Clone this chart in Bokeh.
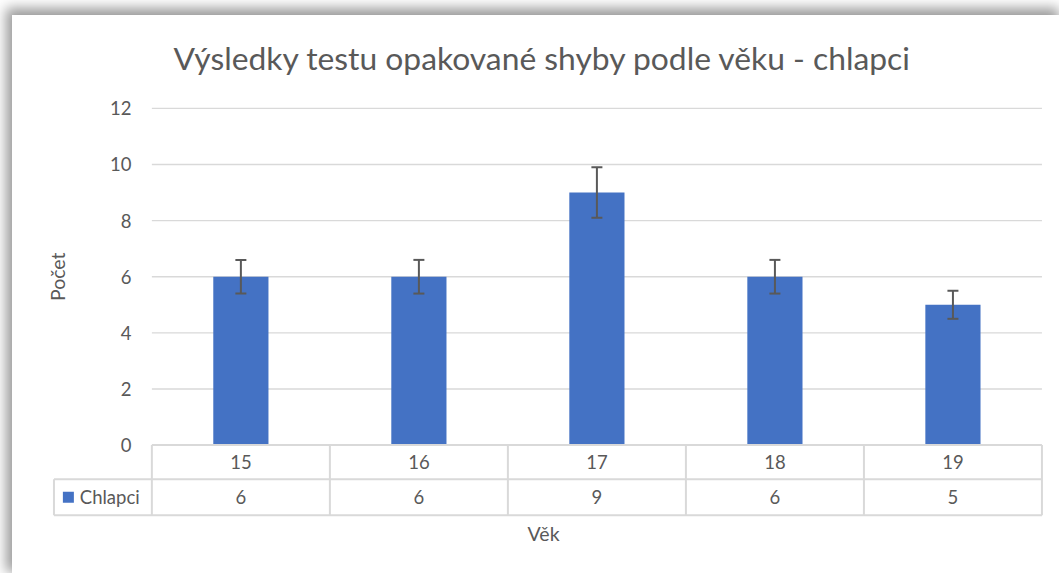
import math
from bokeh.plotting import figure
from bokeh.models import FixedTicker, Label, Range1d, ColumnDataSource, Whisker, TeeHead
from bokeh.embed import file_html
from bokeh.resources import INLINE
from bokeh.core.properties import value

# ---- data ----
categories = ["15", "16", "17", "18", "19"]
counts = [6, 6, 9, 6, 5]
errors = [0.6, 0.6, 0.9, 0.6, 0.5]
series_name = "Chlapci"
y_ticks = [0, 2, 4, 6, 8, 10, 12]
title_text = "Výsledky testu opakované shyby podle věku - chlapci"
y_title = "Počet"
x_title = "Věk"

# ---- style ----
FONT = "Lato"
TXT = "#595959"
GRID = "#d9d9d9"
BAR = "#4472C4"

n = len(categories)
xs = [i + 0.5 for i in range(n)]
row1_y = -1.22   # bottom of category row (data units)
row2_y = -2.5    # bottom of value row
leg_left = -0.55

p = figure(width=1047, height=558, output_backend="svg", toolbar_location=None,
           x_range=Range1d(-0.62, 5.02), y_range=Range1d(-2.58, 12.28),
           min_border_left=29, min_border_right=14, min_border_top=85, min_border_bottom=56,
           tools="")
p.styles = {"margin-left": "12px", "margin-top": "15px", "background-color": "white",
            "box-shadow": "-3px -4px 12px 3px rgba(0,0,0,0.40)"}
p.outline_line_color = None
p.background_fill_color = "white"
p.border_fill_color = "white"
p.xgrid.visible = False
p.ygrid.visible = False

# title
p.title.text = title_text
p.title.text_font = FONT
p.title.text_font_style = "normal"
p.title.text_font_size = "31.8px"
p.title.text_color = TXT
p.title.align = "left"
p.title.offset = 132
p.title.standoff = 45
p.title.vertical_align = "middle"

# gridlines (2..12) from the tick list
p.segment(x0=[0] * (len(y_ticks) - 1), x1=[n] * (len(y_ticks) - 1),
          y0=y_ticks[1:], y1=y_ticks[1:], line_color=GRID, line_width=1.3)

# bars
src = ColumnDataSource(dict(x=xs, top=counts,
                            upper=[c + e for c, e in zip(counts, errors)],
                            lower=[c - e for c, e in zip(counts, errors)]))
p.vbar(x="x", top="top", bottom=0, width=0.31, source=src, fill_color=BAR, line_color=None)

w = Whisker(source=src, base="x", upper="upper", lower="lower",
            line_color=TXT, line_width=2, level="overlay",
            upper_head=TeeHead(size=11, line_color=TXT, line_width=2),
            lower_head=TeeHead(size=11, line_color=TXT, line_width=2))
p.add_layout(w)

# data table borders
p.segment(x0=[0, leg_left, leg_left], x1=[n, n, n], y0=[0, row1_y, row2_y], y1=[0, row1_y, row2_y],
          line_color=GRID, line_width=2)
vx = list(range(n + 1))
p.segment(x0=vx, x1=vx, y0=[0] * len(vx), y1=[row2_y] * len(vx), line_color=GRID, line_width=2)
p.segment(x0=[leg_left], x1=[leg_left], y0=[row1_y], y1=[row2_y], line_color=GRID, line_width=2)

# table text
p.text(x=xs, y=[row1_y / 2] * n, text=categories, text_align="center", text_baseline="middle",
       text_font=value(FONT), text_font_size="18.5px", text_color=TXT)
p.text(x=xs, y=[(row1_y + row2_y) / 2] * n, text=[str(c) for c in counts],
       text_align="center", text_baseline="middle",
       text_font=value(FONT), text_font_size="18.5px", text_color=TXT)
# legend cell
p.rect(x=[-0.469], y=[(row1_y + row2_y) / 2], width=11, height=11,
       width_units="screen", height_units="screen", fill_color=BAR, line_color=None)
p.text(x=[-0.405], y=[(row1_y + row2_y) / 2], text=[series_name], text_align="left",
       text_baseline="middle", text_font=value(FONT), text_font_size="18.5px", text_color=TXT)

# y axis
ya = p.yaxis[0]
ya.ticker = FixedTicker(ticks=y_ticks)
ya.axis_line_color = None
ya.major_tick_line_color = None
ya.minor_tick_line_color = None
ya.major_tick_out = 0
ya.major_tick_in = 0
ya.major_label_standoff = -90
ya.major_label_text_font = FONT
ya.major_label_text_font_size = "18.5px"
ya.major_label_text_color = TXT

# y title
p.add_layout(Label(x=-0.53, y=6, text=y_title, angle=math.pi / 2, angle_units="rad",
                   text_align="center", text_baseline="middle", text_font=FONT,
                   text_font_size="19.5px", text_color=TXT))

# x axis (title only)
xa = p.xaxis[0]
xa.ticker = FixedTicker(ticks=[])
xa.axis_line_color = None
xa.major_tick_line_color = None
xa.minor_tick_line_color = None
xa.major_tick_out = 0
xa.major_label_standoff = 0
xa.axis_label = x_title
xa.axis_label_standoff = 4
xa.axis_label_text_font = FONT
xa.axis_label_text_font_style = "normal"
xa.axis_label_text_font_size = "19.5px"
xa.axis_label_text_color = TXT

open("out.html", "w").write(file_html(p, INLINE))
